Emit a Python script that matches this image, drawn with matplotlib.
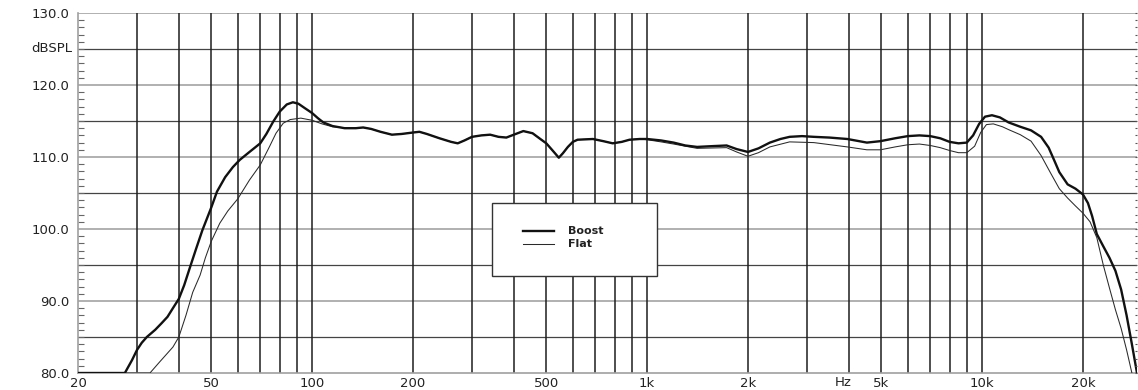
import matplotlib
matplotlib.use("Agg")
import matplotlib.pyplot as plt
from matplotlib.patches import Rectangle
import numpy as np

# ---- data ----
boost_f = [20, 27.6, 29, 30, 31, 32.1, 34, 35.5, 37, 38.4, 40, 41.5, 43.2, 45, 47, 50, 52, 55, 58,
           60.8, 65, 70, 73, 76.5, 80, 84, 87.6, 91, 95, 100, 104, 108, 115, 125, 135, 142, 150,
           160, 173, 185, 200, 209, 220, 240, 260, 272, 285, 300, 320, 340, 360, 380, 400, 427,
           455, 480, 500, 520, 545, 560, 580, 600, 620, 689, 740, 789, 840, 886, 950, 1000,
           1100, 1200, 1300, 1410, 1550, 1727, 1850, 2000, 2150, 2325, 2500, 2663, 2900, 3145,
           3500, 3960, 4530, 4970, 5500, 6000, 6500, 7000, 7500, 8000, 8500, 9000, 9400, 9800,
           10200, 10700, 11300, 12000, 13000, 14000, 15000, 15800, 16500, 17000, 18000, 19000,
           20000, 20700, 21300, 22000, 23000, 24000, 25000, 26000, 27000, 28000, 29000]
boost_db = [80, 80, 81.8, 83.2, 84.2, 85.0, 86.0, 86.9, 87.8, 89.0, 90.3, 92.2, 94.7, 97.2, 99.8,
            103.0, 105.2, 107.2, 108.6, 109.6, 110.7, 111.9, 113.2, 114.9, 116.3, 117.3, 117.6,
            117.4, 116.8, 116.1, 115.4, 114.8, 114.3, 114.0, 114.0, 114.1, 113.9, 113.5, 113.1,
            113.2, 113.4, 113.5, 113.2, 112.6, 112.1, 111.9, 112.3, 112.8, 113.0, 113.1, 112.8,
            112.7, 113.1, 113.6, 113.3, 112.5, 111.9, 111.0, 109.9, 110.5, 111.4, 112.1, 112.4,
            112.5, 112.2, 111.9, 112.1, 112.4, 112.5, 112.5, 112.3, 112.0, 111.6, 111.4, 111.5,
            111.6, 111.1, 110.7, 111.2, 112.0, 112.5, 112.8, 112.9, 112.8, 112.7, 112.5, 112.0,
            112.2, 112.6, 112.9, 113.0, 112.9, 112.6, 112.1, 111.9, 112.0, 113.0, 114.6, 115.6,
            115.8, 115.5, 114.8, 114.2, 113.7, 112.8, 111.3, 109.3, 107.9, 106.2, 105.6, 104.8,
            103.6, 101.8, 99.3, 97.6, 96.0, 94.2, 91.6, 88.0, 84.0, 80]

flat_f = [20, 32.8, 35, 38.4, 40, 42, 44, 46.3, 48, 50, 53, 56, 60, 65, 70, 74.7, 78, 82, 86,
          92.5, 100, 107, 115, 130, 142, 150, 160, 173, 185, 200, 209, 220, 240, 260, 272, 285,
          300, 320, 340, 360, 380, 400, 427, 455, 480, 500, 520, 545, 560, 580, 600, 620, 689,
          740, 789, 840, 886, 950, 1000, 1100, 1200, 1410, 1727, 1850, 2000, 2150, 2325, 2663,
          3145, 3960, 4530, 4970, 5500, 6000, 6500, 7000, 7500, 8000, 8500, 9000, 9500, 9900,
          10300, 10800, 11500, 12000, 13000, 14000, 15000, 16000, 17000, 18000, 19000, 20000,
          21000, 22000, 23000, 24000, 25000, 26000, 27000, 28000]
flat_db = [80, 80, 81.5, 83.6, 85.0, 88.0, 91.2, 93.6, 96.0, 98.3, 100.8, 102.5, 104.2, 106.8,
           108.9, 111.5, 113.3, 114.7, 115.2, 115.4, 115.1, 114.6, 114.2, 114.0, 114.1, 113.9,
           113.5, 113.1, 113.2, 113.4, 113.5, 113.2, 112.6, 112.1, 111.9, 112.3, 112.8, 113.0,
           113.1, 112.8, 112.7, 113.1, 113.6, 113.3, 112.5, 111.9, 111.0, 109.9, 110.5, 111.4,
           112.1, 112.4, 112.5, 112.2, 111.9, 112.1, 112.4, 112.5, 112.4, 112.1, 111.8, 111.2,
           111.3, 110.7, 110.1, 110.6, 111.4, 112.1, 112.0, 111.4, 111.0, 111.0, 111.4, 111.7,
           111.8, 111.6, 111.3, 110.9, 110.6, 110.6, 111.5, 113.4, 114.5, 114.6, 114.2, 113.8,
           113.1, 112.2, 110.2, 107.8, 105.6, 104.3, 103.2, 102.2, 101.0, 98.8, 95.0, 91.8,
           88.8, 86.2, 83.2, 80]

x_tick_vals = [20, 50, 100, 200, 500, 1000, 2000, 5000, 10000, 20000]
x_tick_labels = ["20", "50", "100", "200", "500", "1k", "2k", "5k", "10k", "20k"]
y_tick_vals = [80, 90, 100, 110, 120, 130]
y_tick_labels = ["80.0", "90.0", "100.0", "110.0", "120.0", "130.0"]
series_names = ["Boost", "Flat"]

# ---- figure ----
W, H = 1138, 390
fig = plt.figure(figsize=(W / 100, H / 100), dpi=100)
ax = fig.add_axes([78 / W, 1 - 373 / H, (1137 - 78) / W, (373 - 13) / H])
ax.set_xscale("log")
ax.set_xlim(20, 29000)
ax.set_ylim(80, 130)

font = "DejaVu Sans"
txt_col = "#222222"

# horizontal grid
for v in range(85, 130, 10):
    ax.axhline(v, color="#444444", lw=0.9, zorder=1)
for v in range(90, 131, 10):
    ax.axhline(v, color="#b0b0b0", lw=1.4, zorder=1)

# vertical grid
vlines = [m * 10 ** e for e in range(1, 5) for m in range(1, 10)]
vlines = [v for v in vlines if 20 < v <= 20000]
for v in vlines:
    ax.axvline(v, color="#1e1e1e", lw=1.1, zorder=1)

# curves
ax.plot(flat_f, flat_db, color="#2a2a2a", lw=0.75, zorder=3)
ax.plot(boost_f, boost_db, color="#111111", lw=1.7, zorder=4)

# spines
for s in ["right", "top"]:
    ax.spines[s].set_visible(False)
for s in ["left", "bottom"]:
    ax.spines[s].set_color("#a0a0a0")
    ax.spines[s].set_linewidth(1.2)

# ticks
ax.set_xticks(x_tick_vals)
ax.set_xticklabels(x_tick_labels)
ax.xaxis.set_minor_locator(matplotlib.ticker.NullLocator())
ax.tick_params(axis="x", length=0, pad=3, labelsize=9.5, labelcolor=txt_col)
ax.set_yticks(y_tick_vals)
ax.set_yticklabels(y_tick_labels)
ax.tick_params(axis="y", which="major", length=0, pad=6, labelsize=9.5, labelcolor=txt_col)
ax.set_yticks(np.arange(80, 131, 1), minor=True)
ax.tick_params(axis="y", which="minor", direction="in", length=4, width=0.8,
               color="#666666", left=True, right=False)
for lab in ax.get_xticklabels() + ax.get_yticklabels():
    lab.set_fontfamily(font)

# right-edge tiny ticks
axr = ax.twinx()
axr.set_ylim(80, 130)
axr.set_yticks(np.arange(80, 131, 1))
axr.set_yticklabels([])
axr.tick_params(axis="y", direction="in", length=1.5, width=0.8, color="#555555")
for s in axr.spines.values():
    s.set_visible(False)

ax.text(-6 / (1137 - 78), 125, "dBSPL", transform=ax.get_yaxis_transform(),
        ha="right", va="center", fontsize=9.5, family=font, color=txt_col)
ax.text(3850, 80 - 3 / 7.2, "Hz", ha="center", va="top",
        fontsize=9.5, family=font, color=txt_col)

# legend box (manual)
box_x0, box_x1 = 344, 1070
ax.add_patch(Rectangle((box_x0, 93.5), box_x1 - box_x0, 103.6 - 93.5,
                       facecolor="white", edgecolor="#333333", lw=1.0, zorder=5))
ly = [130 - (231 - 13) / 7.2, 130 - (244 - 13) / 7.2]
lx0 = 20 * 10 ** ((523 - 78) / 335)
lx1 = 20 * 10 ** ((554 - 78) / 335)
tx = 20 * 10 ** ((568 - 78) / 335)
ax.plot([lx0, lx1], [ly[0]] * 2, color="#111111", lw=1.7, zorder=6)
ax.plot([lx0, lx1], [ly[1]] * 2, color="#2a2a2a", lw=0.75, zorder=6)
for yy, name in zip(ly, series_names):
    ax.text(tx, yy, name, ha="left", va="center", fontsize=8, fontweight="bold",
            family=font, color=txt_col, zorder=7)

fig.savefig("out.png", dpi=100)
